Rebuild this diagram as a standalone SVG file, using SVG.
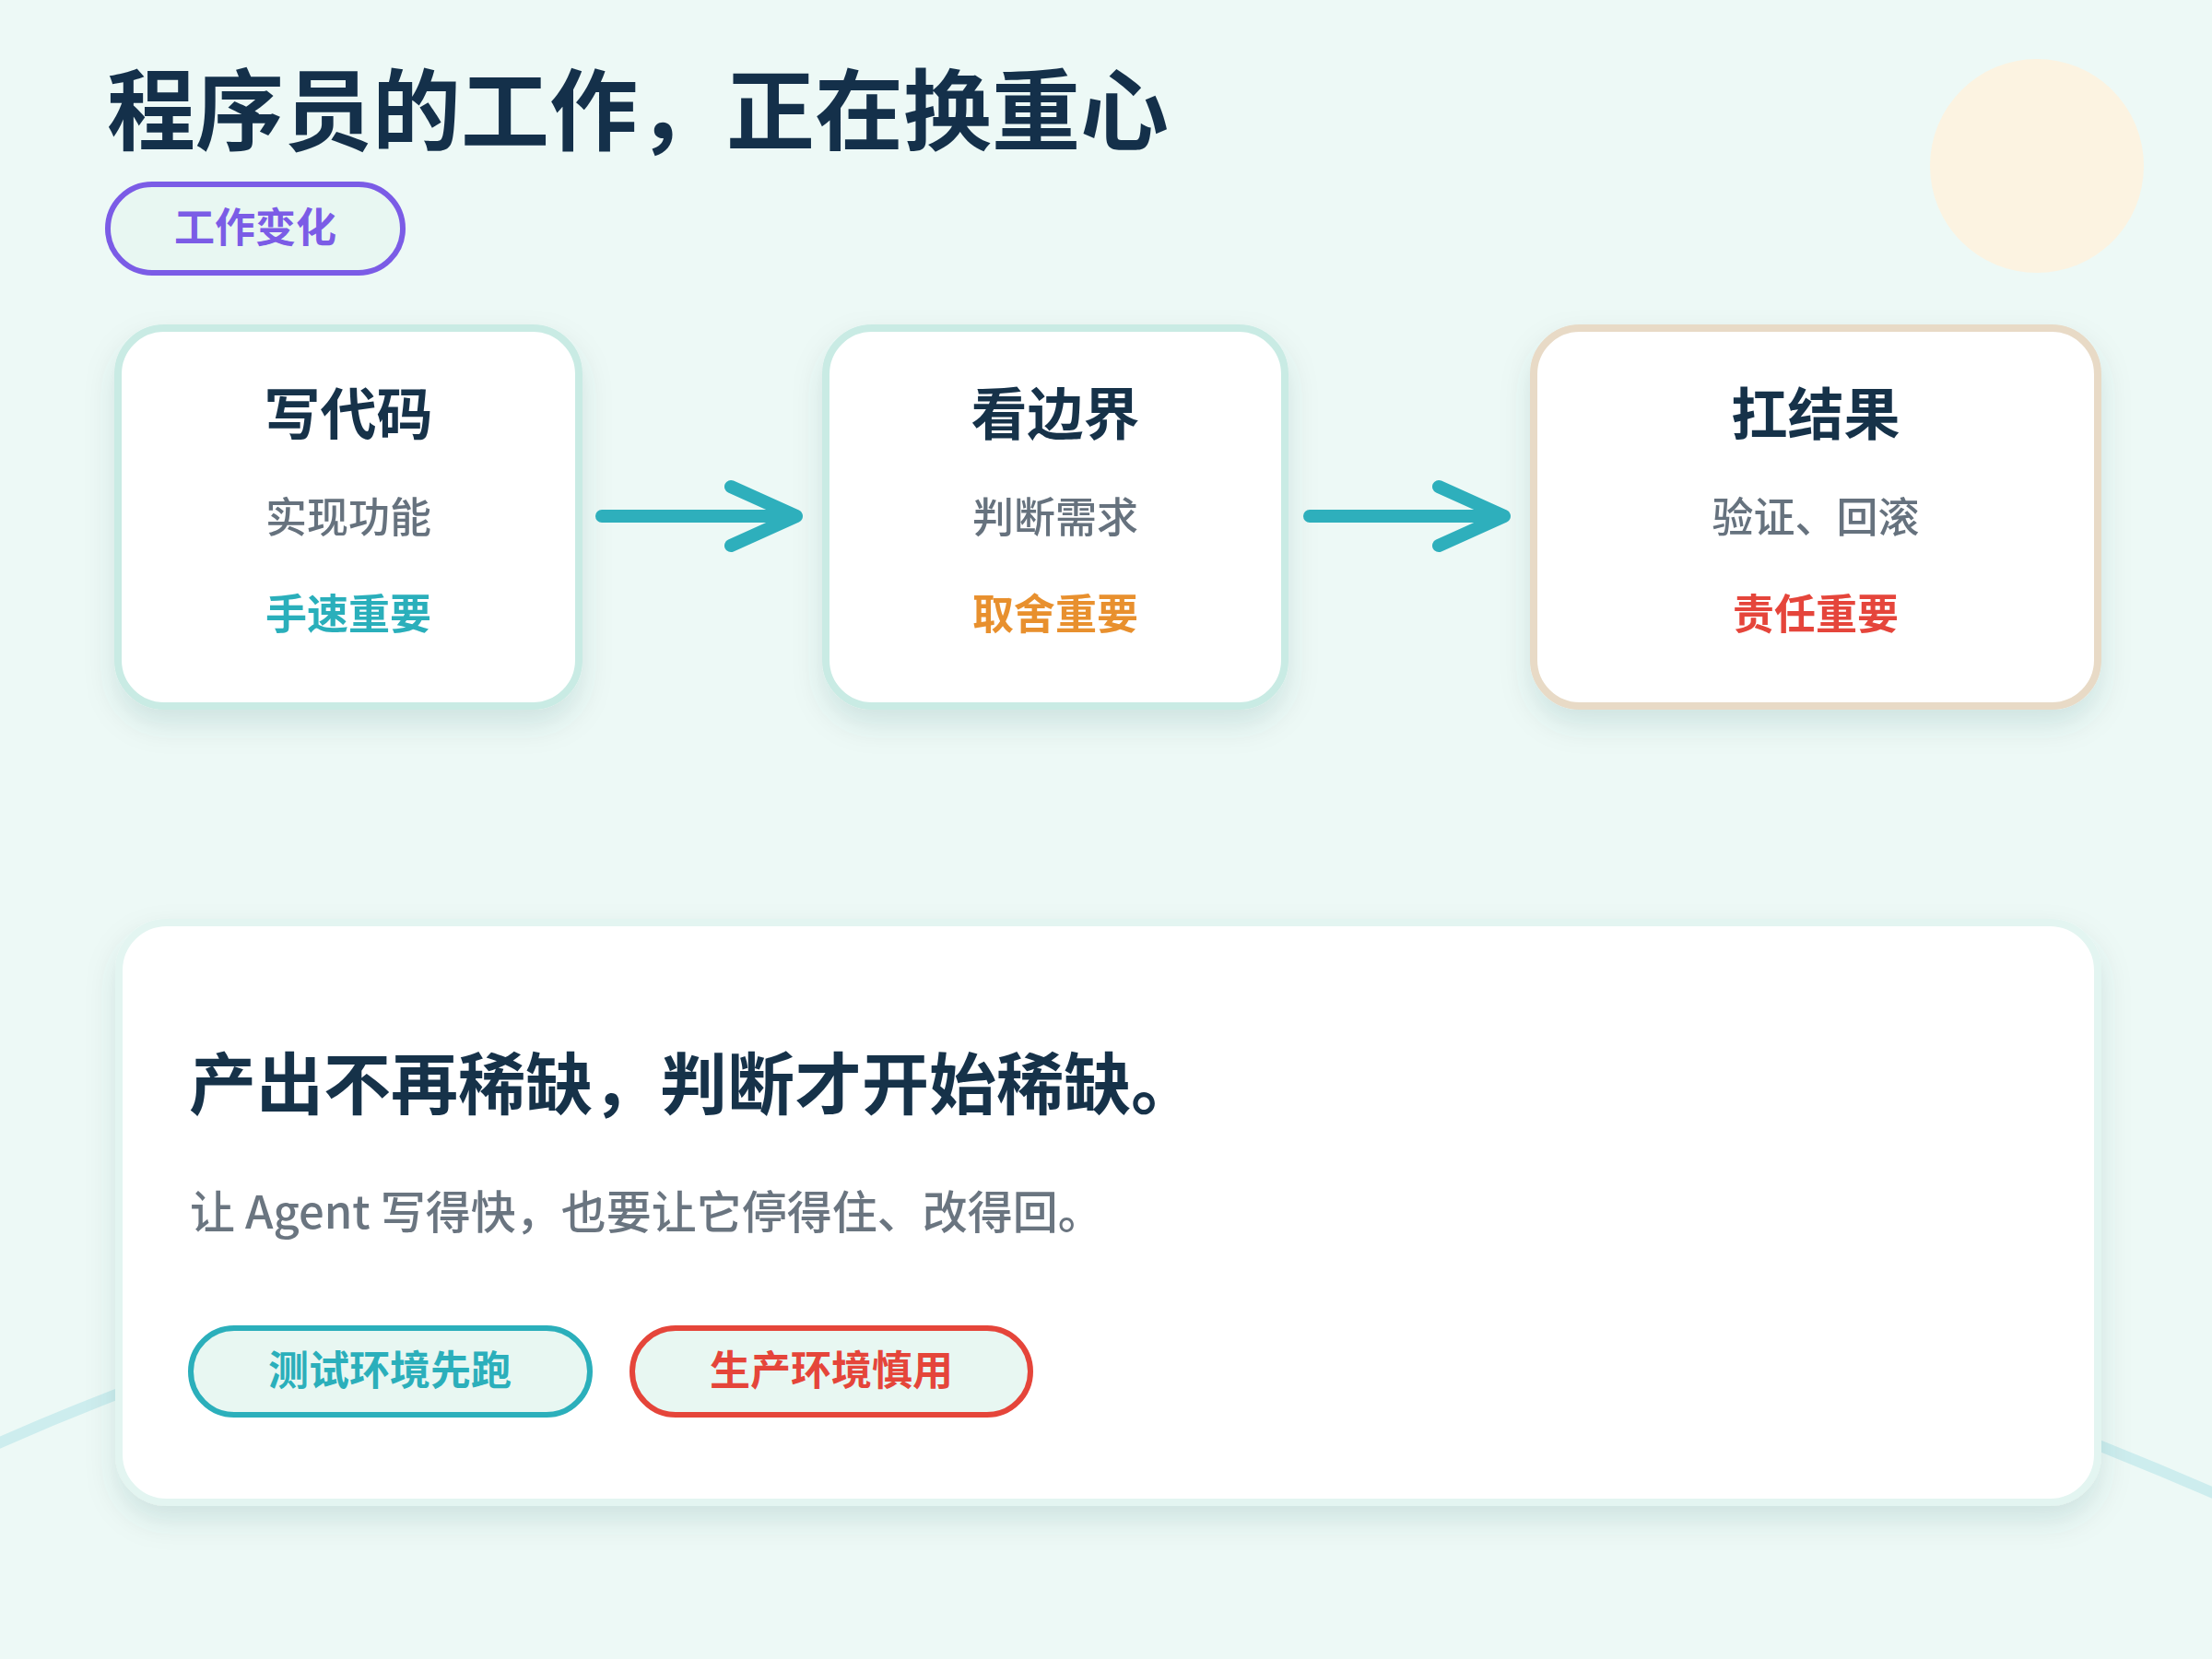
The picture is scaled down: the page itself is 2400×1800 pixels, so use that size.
<svg xmlns="http://www.w3.org/2000/svg" width="2400" height="1800" viewBox="0 0 2400 1800">
<defs>
<filter id="sh" x="-10%" y="-15%" width="120%" height="140%">
<feDropShadow dx="0" dy="16" stdDeviation="16" flood-color="#1B5A5A" flood-opacity="0.13"/>
</filter>
<style>
text{font-family:"Noto Sans CJK SC","Noto Sans",sans-serif}
.title{font-size:96px;font-weight:700;fill:#14304A}
.ct{font-size:61px;font-weight:700;fill:#14304A;text-anchor:middle}
.cs{font-size:45px;font-weight:500;fill:#66727E;text-anchor:middle}
.ck{font-size:45px;font-weight:700;text-anchor:middle}
.card{fill:#FFFFFF;stroke-width:8}
.arrow{fill:none;stroke:#2EAFBC;stroke-width:14;stroke-linecap:round;stroke-linejoin:round}
.pill{fill:#E8F7F2;stroke-width:6}
.pt{font-size:44px;font-weight:700;text-anchor:middle}
</style>
</defs>
<rect x="0" y="0" width="2400" height="1800" fill="#EDF9F6"/>
<circle cx="2210" cy="180" r="116" fill="#FCF3E1"/>
<path d="M -20 1574 Q 1127 1058 2420 1628" fill="none" stroke="#CDEDEE" stroke-width="12"/>

<g id="title">
<text class="title" x="116" y="155">程序员的工作，正在换重心</text>
</g>
<g id="tag">
<rect class="pill" x="117" y="200" width="320" height="96" rx="48" stroke="#7B5CE6"/>
<text class="pt" x="277" y="263" fill="#7B5CE6">工作变化</text>
</g>

<g id="card-write" filter="url(#sh)">
<rect class="card" x="128" y="356" width="500" height="410" rx="50" stroke="#C9EBE4"/>
<text class="ct" x="378" y="472">写代码</text>
<text class="cs" x="378" y="578">实现功能</text>
<text class="ck" x="378" y="683" fill="#2BAFBB">手速重要</text>
</g>
<g id="card-bound" filter="url(#sh)">
<rect class="card" x="896" y="356" width="498" height="410" rx="50" stroke="#C9EBE4"/>
<text class="ct" x="1145" y="472">看边界</text>
<text class="cs" x="1145" y="578">判断需求</text>
<text class="ck" x="1145" y="683" fill="#E8902E">取舍重要</text>
</g>
<g id="card-result" filter="url(#sh)">
<rect class="card" x="1664" y="356" width="612" height="410" rx="50" stroke="#E8DAC6"/>
<text class="ct" x="1970" y="472">扛结果</text>
<text class="cs" x="1970" y="578">验证、回滚</text>
<text class="ck" x="1970" y="683" fill="#E5453A">责任重要</text>
</g>

<g id="connectors">
<path class="arrow" d="M 653 560 H 855 M 793 528 L 864 560 L 793 592"/>
<path class="arrow" d="M 1421 560 H 1623 M 1561 528 L 1632 560 L 1561 592"/>
</g>

<g id="summary" filter="url(#sh)">
<rect x="129" y="1001" width="2147" height="629" rx="52" fill="#FFFFFF" stroke="#E3F5F1" stroke-width="8"/>
<text x="205" y="1203" font-size="73" font-weight="700" fill="#14304A">产出不再稀缺，判断才开始稀缺。</text>
<text x="206" y="1333" font-size="49" font-weight="500" fill="#6B7580">让 Agent 写得快，也要让它停得住、改得回。</text>
</g>
<g id="btn-test">
<rect class="pill" x="207" y="1441" width="433" height="94" rx="47" stroke="#2BAFBB"/>
<text class="pt" x="423" y="1503" fill="#2BAFBB">测试环境先跑</text>
</g>
<g id="btn-prod">
<rect class="pill" x="686" y="1441" width="432" height="94" rx="47" stroke="#E5453A"/>
<text class="pt" x="902" y="1503" fill="#E5453A">生产环境慎用</text>
</g>
</svg>
